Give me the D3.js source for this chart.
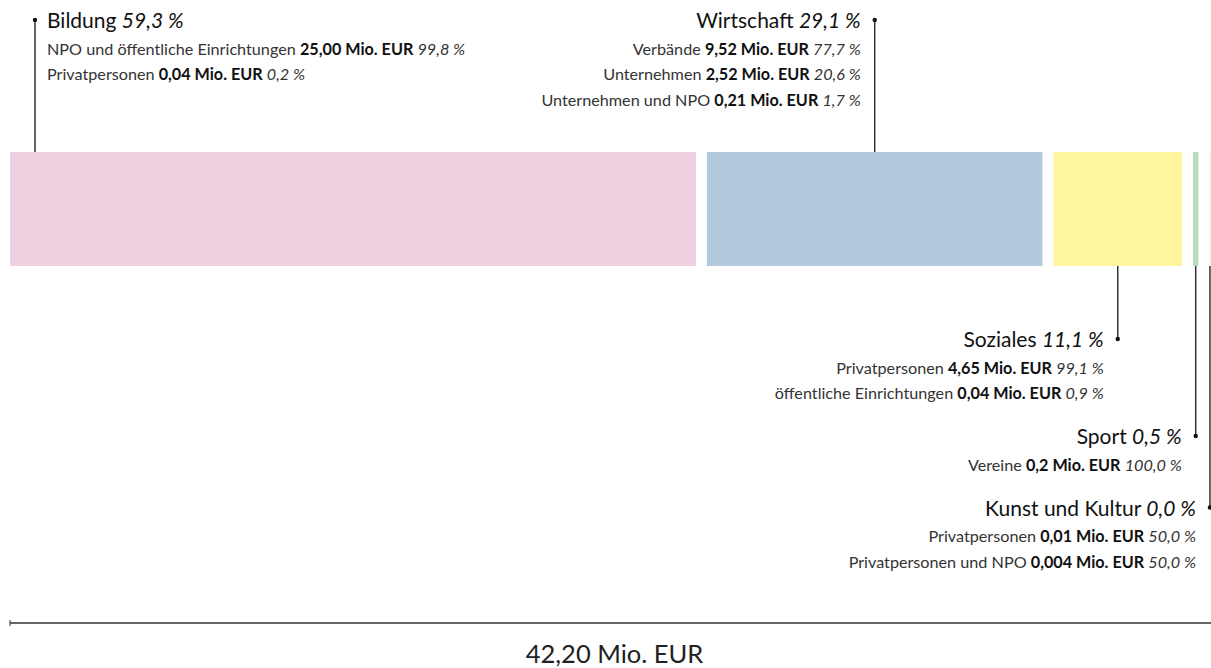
<!DOCTYPE html>
<html>
<head>
<meta charset="utf-8">
<script src="https://cdn.jsdelivr.net/npm/d3@7"></script>
<style>
  body { margin: 0; background: #fff; }
  svg { font-family: Lato, "Open Sans", sans-serif; }
  .title { font-size: 21px; fill: #111; }
  .sub { font-size: 16.2px; fill: #333; }
  .sub .val { font-weight: bold; fill: #111; }
  .pct { font-style: italic; }
  .total { font-size: 25.5px; fill: #222; }
</style>
</head>
<body>
<svg id="chart" width="1211" height="668"></svg>
<script>
// categories in bar order
var categories = ["Bildung", "Wirtschaft", "Soziales", "Sport", "Kunst und Kultur"];
var categoryShares = ["59,3", "29,1", "11,1", "0,5", "0,0"];
var colors = ["#efd0e0", "#b3c9dd", "#fef59d", "#b9ddbb", "#e6f3e2"];

// sub-groups per category
var subLabels = [
  ["NPO und öffentliche Einrichtungen", "Privatpersonen"],
  ["Verbände", "Unternehmen", "Unternehmen und NPO"],
  ["Privatpersonen", "öffentliche Einrichtungen"],
  ["Vereine"],
  ["Privatpersonen", "Privatpersonen und NPO"]
];
var subValues = [
  [25.00, 0.04],
  [9.52, 2.52, 0.21],
  [4.65, 0.04],
  [0.2],
  [0.01, 0.004]
];
var subValueText = [
  ["25,00", "0,04"],
  ["9,52", "2,52", "0,21"],
  ["4,65", "0,04"],
  ["0,2"],
  ["0,01", "0,004"]
];
var subShares = [
  ["99,8", "0,2"],
  ["77,7", "20,6", "1,7"],
  ["99,1", "0,9"],
  ["100,0"],
  ["50,0", "50,0"]
];
var labelSide = ["top", "top", "bottom", "bottom", "bottom"];
var labelAnchor = ["start", "end", "end", "end", "end"];

var total = 42.20;
var totalText = "42,20 Mio. EUR";

var width = 1211,
    height = 668,
    barLeft = 10,
    barRight = 1210,
    barTop = 152,
    barBottom = 266,
    gap = 11;

var svg = d3.select("#chart");

var x = d3.scaleLinear()
  .domain([0, total])
  .range([0, barRight - barLeft - gap * (categories.length - 1)]);

var cum = 0;
var data = categories.map(function(c, i) {
  var v = d3.sum(subValues[i]);
  var d = {
    i: i,
    name: c,
    value: v,
    x0: barLeft + x(cum) + i * gap,
    w: Math.max(1, x(v))
  };
  cum += v;
  return d;
});

svg.append("g")
  .selectAll("rect").data(data)
  .enter().append("rect")
    .attr("x", function(d) { return d.x0; })
    .attr("y", barTop)
    .attr("width", function(d) { return d.w; })
    .attr("height", barBottom - barTop)
    .attr("fill", function(d) { return colors[d.i]; });

// label layout
var lineH = 25.5,
    titleToSub = 26.5,
    blockGap = 45,
    topTitleY = 28,
    bottomY = barBottom + 81;

data.forEach(function(d) {
  d.cx = labelAnchor[d.i] === "start" ? d.x0 + 25 : d.x0 + d.w / 2;
  if (labelSide[d.i] === "top") {
    d.titleY = topTitleY;
  } else {
    d.titleY = bottomY;
    bottomY += titleToSub + (subLabels[d.i].length - 1) * lineH + blockGap;
  }
});

var labels = svg.append("g")
  .selectAll("g").data(data)
  .enter().append("g");

labels.append("line")
  .attr("x1", function(d) { return d.cx; })
  .attr("x2", function(d) { return d.cx; })
  .attr("y1", function(d) { return d.titleY - 8; })
  .attr("y2", function(d) { return labelSide[d.i] === "top" ? barTop : barBottom; })
  .attr("stroke", "#333")
  .attr("stroke-width", 1.5);

labels.append("circle")
  .attr("cx", function(d) { return d.cx; })
  .attr("cy", function(d) { return d.titleY - 8; })
  .attr("r", 2.2)
  .attr("fill", "#111");

function textX(d) {
  return labelAnchor[d.i] === "start" ? d.cx + 12 : d.cx - 14;
}

var title = labels.append("text")
  .attr("class", "title")
  .attr("x", textX)
  .attr("y", function(d) { return d.titleY; })
  .attr("text-anchor", function(d) { return labelAnchor[d.i]; });
title.append("tspan").text(function(d) { return d.name + " "; });
title.append("tspan").attr("class", "pct").text(function(d) { return categoryShares[d.i] + " %"; });

labels.each(function(d) {
  var g = d3.select(this);
  subLabels[d.i].forEach(function(lab, j) {
    var t = g.append("text")
      .attr("class", "sub")
      .attr("x", textX(d))
      .attr("y", d.titleY + titleToSub + j * lineH)
      .attr("text-anchor", labelAnchor[d.i]);
    t.append("tspan").text(lab + " ");
    t.append("tspan").attr("class", "val").text(subValueText[d.i][j] + " Mio. EUR");
    t.append("tspan").text(" ");
    t.append("tspan").attr("class", "pct").text(subShares[d.i][j] + " %");
  });
});

// total axis
var axisY = 623;
svg.append("line")
  .attr("x1", barLeft).attr("x2", width)
  .attr("y1", axisY).attr("y2", axisY)
  .attr("stroke", "#333").attr("stroke-width", 1.5);
svg.append("line")
  .attr("x1", barLeft).attr("x2", barLeft)
  .attr("y1", axisY - 3).attr("y2", axisY + 3)
  .attr("stroke", "#333").attr("stroke-width", 1);

svg.append("text")
  .attr("class", "total")
  .attr("x", (barLeft + width) / 2 + 4)
  .attr("y", 663)
  .attr("text-anchor", "middle")
  .text(totalText);
</script>
</body>
</html>
